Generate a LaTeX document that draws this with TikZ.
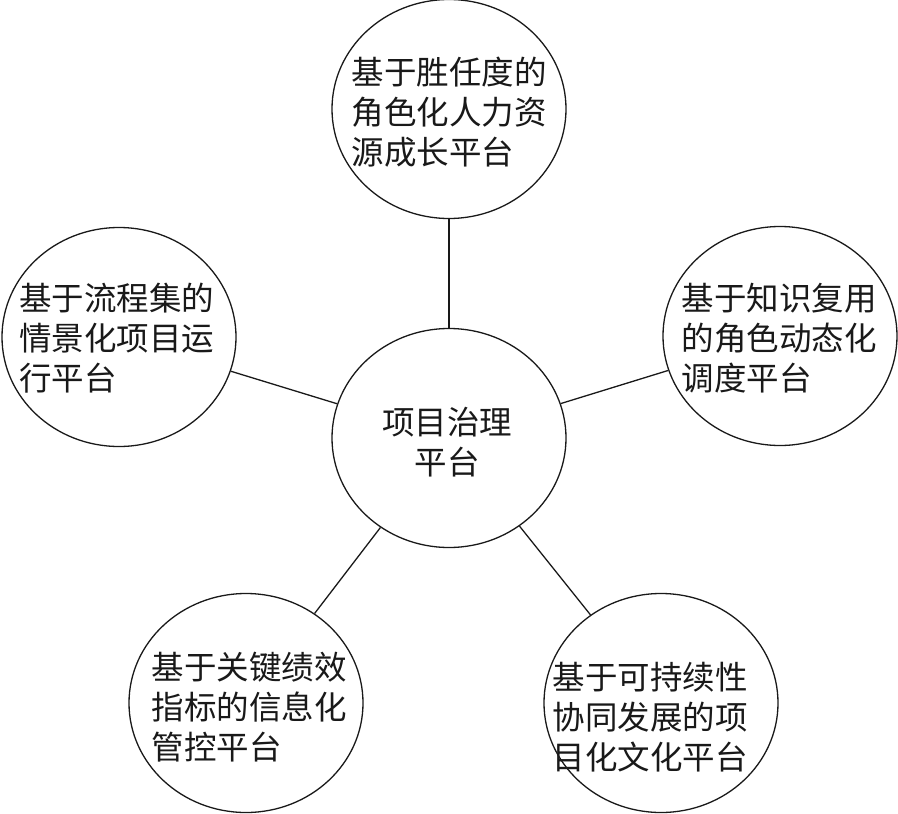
\documentclass[tikz,border=0pt]{standalone}
\usepackage{fontspec}
\setmainfont{Noto Sans CJK SC}
\usetikzlibrary{shapes.geometric}
\tikzset{
  bub/.style={draw=black!90, line width=1.3pt, ellipse, minimum width=234pt, minimum height=219pt, inner sep=0pt, fill=white},
  lab/.style={align=left, font=\fontsize{32.5}{40}\selectfont, inner sep=0pt, text=black!90},
  link/.style={draw=black!90, line width=1.3pt}
}
\begin{document}
\begin{tikzpicture}[x=1pt,y=-1pt]
\useasboundingbox (0,0) rectangle (898,814);
\node[bub] (c)  at (449,438) {};
\node[bub] (t)  at (449,109) {};
\node[bub] (l)  at (119,337) {};
\node[bub] (r)  at (780,336) {};
\node[bub] (bl) at (246,703) {};
\node[bub] (br) at (661,703) {};
\draw[link] (c) -- (t);
\draw[link] (c) -- (l);
\draw[link] (c) -- (r);
\draw[link] (c) -- (bl);
\draw[link] (c) -- (br);
\node[lab, align=center] (tc) at (447,442) {项目治理\\平台};
\node[lab] (tt) at (449,112) {基于胜任度的\\角色化人力资\\源成长平台};
\node[lab] (tl) at (117,338) {基于流程集的\\情景化项目运\\行平台};
\node[lab] (tr) at (779,338) {基于知识复用\\的角色动态化\\调度平台};
\node[lab] (tbl) at (249,707) {基于关键绩效\\指标的信息化\\管控平台};
\node[lab] (tbr) at (650,717) {基于可持续性\\协同发展的项\\目化文化平台};
\end{tikzpicture}
\end{document}
